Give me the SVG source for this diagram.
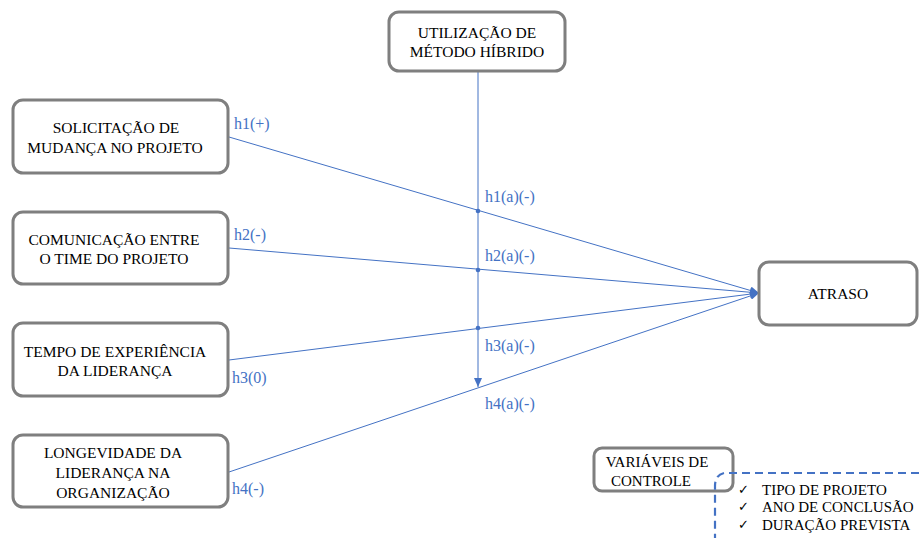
<svg xmlns="http://www.w3.org/2000/svg" width="919" height="538" viewBox="0 0 919 538" font-family="Liberation Serif, Times New Roman, serif">
<style>
.box{fill:#fff;stroke:#7f7f7f;stroke-width:3}
.t{font-size:15.5px;fill:#000;text-anchor:middle}
.h{font-size:16px;fill:#4472c4}
.ln{stroke:#4472c4;stroke-width:1;fill:none}
.c{font-size:15px;fill:#000}
.ck{font-size:13px;fill:#000}
</style>
<defs>
<marker id="arr" markerWidth="10" markerHeight="8" refX="9" refY="4" orient="auto" markerUnits="userSpaceOnUse">
<path d="M0,0 L9,4 L0,8 z" fill="#4472c4"/>
</marker>
</defs>
<rect width="919" height="538" fill="#fff"/>
<g id="connectors">
<line class="ln" x1="478" y1="71" x2="478" y2="387" marker-end="url(#arr)"/>
<line class="ln" x1="229" y1="137" x2="759" y2="293" marker-end="url(#arr)"/>
<line class="ln" x1="229" y1="248" x2="759" y2="293" marker-end="url(#arr)"/>
<line class="ln" x1="229" y1="360" x2="759" y2="293" marker-end="url(#arr)"/>
<line class="ln" x1="229" y1="472" x2="759" y2="293" marker-end="url(#arr)"/>
<circle cx="478" cy="211" r="2.3" fill="#4472c4"/>
<circle cx="478" cy="270" r="2.3" fill="#4472c4"/>
<circle cx="478" cy="328" r="2.3" fill="#4472c4"/>
<text class="h" x="234" y="129" font-family="Liberation Serif">h1(+)</text>
<text class="h" x="234" y="240" font-family="Liberation Serif">h2(-)</text>
<text class="h" x="232" y="383" font-family="Liberation Serif">h3(0)</text>
<text class="h" x="232" y="494" font-family="Liberation Serif">h4(-)</text>
<text class="h" x="485" y="202" font-family="Liberation Serif">h1(a)(-)</text>
<text class="h" x="485" y="261" font-family="Liberation Serif">h2(a)(-)</text>
<text class="h" x="485" y="351" font-family="Liberation Serif">h3(a)(-)</text>
<text class="h" x="485" y="409" font-family="Liberation Serif">h4(a)(-)</text>
</g>
<g id="metodo" font-family="Liberation Serif">
<rect class="box" x="389" y="12" width="176" height="59" rx="10"/>
<text class="t" x="477" y="38">UTILIZAÇÃO DE</text>
<text class="t" x="477" y="57">MÉTODO HÍBRIDO</text>
</g>
<g id="solicitacao" font-family="Liberation Serif">
<rect class="box" x="13" y="100" width="215" height="73" rx="10"/>
<text class="t" x="116" y="133">SOLICITAÇÃO DE</text>
<text class="t" x="115" y="153">MUDANÇA NO PROJETO</text>
</g>
<g id="comunicacao" font-family="Liberation Serif">
<rect class="box" x="13" y="212" width="215" height="72" rx="10"/>
<text class="t" x="114" y="245">COMUNICAÇÃO ENTRE</text>
<text class="t" x="114" y="264">O TIME DO PROJETO</text>
</g>
<g id="tempo" font-family="Liberation Serif">
<rect class="box" x="13" y="323" width="215" height="73" rx="10"/>
<text class="t" x="115" y="357">TEMPO DE EXPERIÊNCIA</text>
<text class="t" x="115" y="376">DA LIDERANÇA</text>
</g>
<g id="longevidade" font-family="Liberation Serif">
<rect class="box" x="13" y="435" width="215" height="72" rx="10"/>
<text class="t" x="113" y="458">LONGEVIDADE DA</text>
<text class="t" x="113" y="478">LIDERANÇA NA</text>
<text class="t" x="113" y="498">ORGANIZAÇÃO</text>
</g>
<g id="atraso" font-family="Liberation Serif">
<rect class="box" x="759" y="262" width="158" height="63" rx="10"/>
<text class="t" x="838" y="299">ATRASO</text>
</g>
<g id="controle" font-family="Liberation Serif">
<rect class="box" x="594" y="448" width="139" height="43" rx="8"/>
<text class="t" x="657" y="467" style="font-size:15px">VARIÁVEIS DE</text>
<text class="t" x="651" y="486" style="font-size:15px">CONTROLE</text>
<path d="M919,473 L724,473 Q715,475 715,486 L715,538" fill="none" stroke="#4472c4" stroke-width="2.2" stroke-dasharray="8,5"/>
<text class="ck" x="738" y="494" font-family="DejaVu Sans">✓</text>
<text class="ck" x="738" y="511" font-family="DejaVu Sans">✓</text>
<text class="ck" x="738" y="529" font-family="DejaVu Sans">✓</text>
<text class="c" x="762" y="495">TIPO DE PROJETO</text>
<text class="c" x="762" y="512">ANO DE CONCLUSÃO</text>
<text class="c" x="762" y="530">DURAÇÃO PREVISTA</text>
</g>
</svg>
